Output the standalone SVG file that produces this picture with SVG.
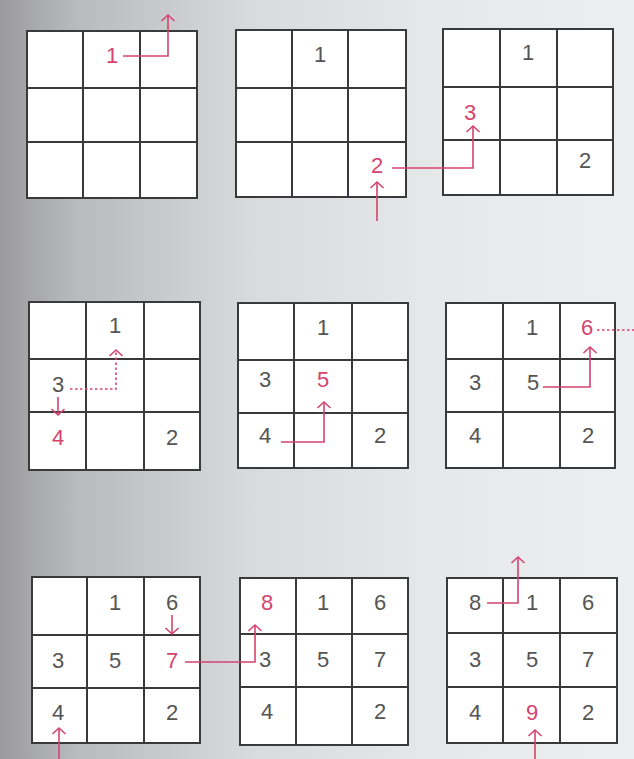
<svg xmlns="http://www.w3.org/2000/svg" width="634" height="759" viewBox="0 0 634 759">
<defs>
<linearGradient id="bg" x1="0" y1="0" x2="1" y2="0">
<stop offset="0" stop-color="#9a9a9f"/>
<stop offset="0.12" stop-color="#b9babe"/>
<stop offset="0.4" stop-color="#d8dadd"/>
<stop offset="0.7" stop-color="#e6e8ea"/>
<stop offset="1" stop-color="#eceef0"/>
</linearGradient>
<marker id="chev" viewBox="-8 -8 16 16" refX="0" refY="0" markerWidth="16" markerHeight="16" markerUnits="userSpaceOnUse" orient="auto">
<path d="M-6,-6.5 L0,0 L-6,6.5" fill="none" stroke="#d4446e" stroke-width="1.6"/>
</marker>
<style>
.g{fill:#ffffff;stroke:#3a3a3a;stroke-width:2}
.l{stroke:#3a3a3a;stroke-width:2}
.n{font-family:"Liberation Sans",Arial,sans-serif;font-size:22px;fill:#555;text-anchor:middle}
.r{fill:#d4446e}
.c{fill:none;stroke:#d4446e;stroke-width:1.6}
.d{stroke-dasharray:2.5 2.5}
.a{marker-end:url(#chev)}
</style>
</defs>
<rect width="634" height="759" fill="url(#bg)"/>

<g id="grid1">
<rect class="g" x="27" y="31" width="170" height="167"/>
<path class="l" d="M83,31V198M140,31V198M27,88H197M27,142H197"/>
<text class="n r" x="112" y="63">1</text>
</g>
<g id="grid2">
<rect class="g" x="236" y="30" width="170" height="167"/>
<path class="l" d="M292,30V197M348,30V197M236,88H406M236,142H406"/>
<text class="n" x="320" y="62">1</text>
<text class="n r" x="377" y="173">2</text>
</g>
<g id="grid3">
<rect class="g" x="443" y="29" width="170" height="166"/>
<path class="l" d="M500,29V195M557,29V195M443,87H613M443,140H613"/>
<text class="n" x="528" y="60">1</text>
<text class="n r" x="470" y="120">3</text>
<text class="n" x="585" y="168">2</text>
</g>
<g id="grid4">
<rect class="g" x="29" y="302" width="171" height="168"/>
<path class="l" d="M86,302V470M144,302V470M29,359H200M29,412H200"/>
<text class="n" x="115" y="333">1</text>
<text class="n" x="58" y="392">3</text>
<text class="n r" x="58" y="445">4</text>
<text class="n" x="172" y="445">2</text>
</g>
<g id="grid5">
<rect class="g" x="238" y="303" width="170" height="165"/>
<path class="l" d="M294,303V468M352,303V468M238,360H408M238,413H408"/>
<text class="n" x="323" y="335">1</text>
<text class="n" x="265" y="387">3</text>
<text class="n r" x="323" y="387">5</text>
<text class="n" x="265" y="443">4</text>
<text class="n" x="380" y="443">2</text>
</g>
<g id="grid6">
<rect class="g" x="446" y="303" width="169" height="165"/>
<path class="l" d="M503,303V468M560,303V468M446,359H615M446,412H615"/>
<text class="n" x="532" y="335">1</text>
<text class="n r" x="587" y="335">6</text>
<text class="n" x="475" y="390">3</text>
<text class="n" x="533" y="390">5</text>
<text class="n" x="475" y="443">4</text>
<text class="n" x="588" y="443">2</text>
</g>
<g id="grid7">
<rect class="g" x="32" y="577" width="168" height="166"/>
<path class="l" d="M87,577V743M144,577V743M32,635H200M32,688H200"/>
<text class="n" x="115" y="610">1</text>
<text class="n" x="172" y="610">6</text>
<text class="n" x="58" y="668">3</text>
<text class="n" x="115" y="668">5</text>
<text class="n r" x="172" y="668">7</text>
<text class="n" x="58" y="720">4</text>
<text class="n" x="172" y="720">2</text>
</g>
<g id="grid8">
<rect class="g" x="240" y="578" width="168" height="167"/>
<path class="l" d="M296,578V745M352,578V745M240,634H408M240,687H408"/>
<text class="n r" x="267" y="610">8</text>
<text class="n" x="323" y="610">1</text>
<text class="n" x="380" y="610">6</text>
<text class="n" x="265" y="667">3</text>
<text class="n" x="323" y="667">5</text>
<text class="n" x="380" y="667">7</text>
<text class="n" x="267" y="719">4</text>
<text class="n" x="380" y="719">2</text>
</g>
<g id="grid9">
<rect class="g" x="447" y="578" width="170" height="165"/>
<path class="l" d="M503,578V743M560,578V743M447,633H617M447,687H617"/>
<text class="n" x="475" y="610">8</text>
<text class="n" x="532" y="610">1</text>
<text class="n" x="588" y="610">6</text>
<text class="n" x="475" y="667">3</text>
<text class="n" x="532" y="667">5</text>
<text class="n" x="588" y="667">7</text>
<text class="n" x="475" y="720">4</text>
<text class="n r" x="532" y="720">9</text>
<text class="n" x="588" y="720">2</text>
</g>

<g id="connectors">
<path class="c a" d="M123,56H168V15"/>
<path class="c a" d="M377,221V182"/>
<path class="c a" d="M392,168H473V126"/>
<path class="c d a" d="M70,389H116V350"/>
<path class="c a" d="M58,397V415"/>
<path class="c a" d="M281,442H324V402"/>
<path class="c a" d="M543,387H590V347"/>
<path class="c d" d="M597,330H634"/>
<path class="c a" d="M172,615V634"/>
<path class="c a" d="M59,759V728"/>
<path class="c a" d="M185,662H255V625"/>
<path class="c a" d="M487,603H518V557"/>
<path class="c a" d="M535,759V730"/>
</g>
</svg>
